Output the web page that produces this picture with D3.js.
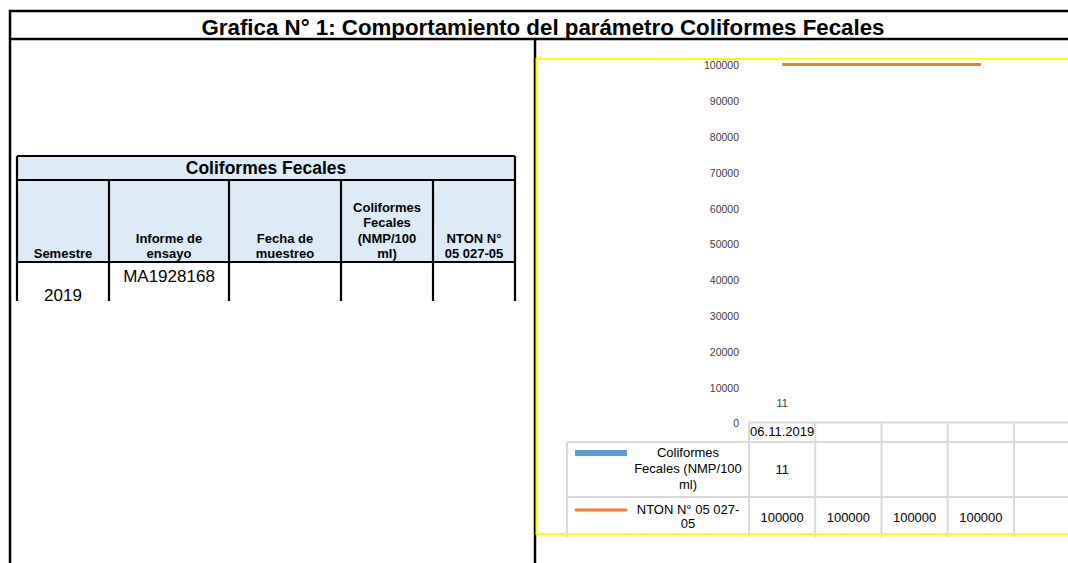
<!DOCTYPE html>
<html>
<head>
<meta charset="utf-8">
<script src="https://cdn.jsdelivr.net/npm/d3@7"></script>
<style>
  body { margin: 0; background: #fff; }
  text { font-family: Arial, "Liberation Sans", sans-serif; }
</style>
</head>
<body>
<div id="o1"></div>
<script>
// Chart data
var categories = ["06.11.2019", "", "", "", "", ""];
var cfValues = [11, null, null, null, null, null];
var ntonValues = [100000, 100000, 100000, 100000, null, null];
var seriesNames = [["Coliformes", "Fecales (NMP/100", "ml)"], ["NTON N° 05 027-", "05"]];

// Left table data
var tableTitle = "Coliformes Fecales";
var tableHeaders = [["Semestre"], ["Informe de", "ensayo"], ["Fecha de", "muestreo"], ["Coliformes", "Fecales", "(NMP/100", "ml)"], ["NTON N°", "05 027-05"]];
var tableRow = ["2019", "MA1928168", "", "", ""];

var width = 1068, height = 563;

var svg = d3.select("#o1").append("svg")
  .attr("width", width)
  .attr("height", height);

// Outer frame and title row
svg.append("path")
  .attr("d", "M10,563 V11 H1068 M10,39 H1068 M535,39 V563")
  .attr("fill", "none")
  .attr("stroke", "#000")
  .attr("stroke-width", 2.5);

svg.append("text")
  .attr("x", 543)
  .attr("y", 34.5)
  .attr("text-anchor", "middle")
  .style("font-size", "22.3px")
  .style("font-weight", "bold")
  .text("Grafica N° 1: Comportamiento del parámetro Coliformes Fecales");

// ---------- Left table ----------
var colX = [17, 109, 229, 341, 433, 515];
var tTop = 156, tBand = 180, tHead = 262, tEnd = 301;

svg.append("rect")
  .attr("x", colX[0]).attr("y", tTop)
  .attr("width", colX[5] - colX[0]).attr("height", tHead - tTop)
  .attr("fill", "#ddebf7");

var tl = svg.append("g")
  .attr("stroke", "#000")
  .attr("stroke-width", 2.2);
tl.append("path")
  .attr("d", "M" + colX[0] + "," + tTop + " H" + colX[5] +
    " M" + colX[0] + "," + tBand + " H" + colX[5] +
    " M" + colX[0] + "," + tHead + " H" + colX[5]);
tl.selectAll(".vl")
  .data(colX)
  .enter().append("line")
  .attr("x1", function(d) { return d; })
  .attr("x2", function(d) { return d; })
  .attr("y1", function(d, i) { return (i === 0 || i === 5) ? tTop : tBand; })
  .attr("y2", tEnd);

svg.append("text")
  .attr("x", (colX[0] + colX[5]) / 2)
  .attr("y", 174)
  .attr("text-anchor", "middle")
  .style("font-size", "17.5px")
  .style("font-weight", "bold")
  .text(tableTitle);

// Header cells, bottom-aligned
tableHeaders.forEach(function(lines, i) {
  var cx = (colX[i] + colX[i + 1]) / 2;
  lines.forEach(function(line, j) {
    svg.append("text")
      .attr("x", cx)
      .attr("y", tHead - 4 - (lines.length - 1 - j) * 15.5)
      .attr("text-anchor", "middle")
      .style("font-size", "13px")
      .style("font-weight", "bold")
      .text(line);
  });
});

// Data row
svg.append("text")
  .attr("x", (colX[0] + colX[1]) / 2)
  .attr("y", 301)
  .attr("text-anchor", "middle")
  .style("font-size", "17px")
  .text(tableRow[0]);
svg.append("text")
  .attr("x", (colX[1] + colX[2]) / 2)
  .attr("y", 282)
  .attr("text-anchor", "middle")
  .style("font-size", "17px")
  .text(tableRow[1]);

// ---------- Chart ----------
var x = d3.scaleBand()
  .domain(categories.map(function(d, i) { return i; }))
  .range([749, 749 + 66.25 * categories.length])
  .paddingInner(0).paddingOuter(0);

var y = d3.scaleLinear()
  .domain([0, 100000])
  .range([422.5, 64.5]);

// y axis labels only
var yAxis = svg.append("g")
  .attr("transform", "translate(739,1)")
  .call(d3.axisLeft(y).ticks(10).tickSize(0).tickPadding(0).tickFormat(d3.format("d")));
yAxis.select(".domain").remove();
yAxis.selectAll("text")
  .attr("fill", "#404040")
  .style("font-size", "10.5px")
  .style("font-family", "Arial, 'Liberation Sans', sans-serif");

// Bars (Coliformes)
var barW = x.bandwidth() * 0.55;
svg.selectAll(".bar")
  .data(cfValues.map(function(v, i) { return { i: i, v: v }; }).filter(function(d) { return d.v != null; }))
  .enter().append("rect")
  .attr("class", "bar")
  .attr("x", function(d) { return x(d.i) + (x.bandwidth() - barW) / 2; })
  .attr("y", function(d) { return y(d.v); })
  .attr("width", barW)
  .attr("height", function(d) { return y(0) - y(d.v); })
  .attr("fill", "#5b9bd5");

svg.selectAll(".barlabel")
  .data(cfValues.map(function(v, i) { return { i: i, v: v }; }).filter(function(d) { return d.v != null; }))
  .enter().append("text")
  .attr("x", function(d) { return x(d.i) + x.bandwidth() / 2; })
  .attr("y", function(d) { return y(d.v) - 15.5; })
  .attr("text-anchor", "middle")
  .attr("fill", "#404040")
  .style("font-size", "11px")
  .text(function(d) { return d.v; });

// NTON line
var line = d3.line()
  .defined(function(d) { return d != null; })
  .x(function(d, i) { return x(i) + x.bandwidth() / 2; })
  .y(function(d) { return y(d); });
svg.append("path")
  .datum(ntonValues)
  .attr("d", line)
  .attr("fill", "none")
  .attr("stroke", "#ed7d31")
  .attr("stroke-width", 3);

// Data table under the chart
var rowTop = [422.5, 442, 497, 537];
var legendLeft = 567;
var gridEnd = 1070;
var grid = svg.append("g")
  .attr("stroke", "#d9d9d9")
  .attr("stroke-width", 2)
  .attr("fill", "none");
grid.append("path")
  .attr("d", "M" + x(0) + "," + rowTop[0] + " H" + gridEnd +
    " M" + legendLeft + "," + rowTop[1] + " H" + gridEnd +
    " M" + legendLeft + "," + rowTop[2] + " H" + gridEnd +
    " M" + legendLeft + "," + rowTop[1] + " V" + rowTop[3]);
grid.selectAll(".gv")
  .data(categories.map(function(d, i) { return i; }))
  .enter().append("line")
  .attr("x1", function(d) { return x(d); })
  .attr("x2", function(d) { return x(d); })
  .attr("y1", rowTop[0])
  .attr("y2", rowTop[3]);

// Category labels
svg.selectAll(".catlabel")
  .data(categories)
  .enter().append("text")
  .attr("x", function(d, i) { return x(i) + x.bandwidth() / 2; })
  .attr("y", 435.5)
  .attr("text-anchor", "middle")
  .attr("fill", "#000")
  .style("font-size", "13px")
  .text(function(d) { return d; });

// Legend keys
svg.append("rect")
  .attr("x", 575).attr("y", 450)
  .attr("width", 52).attr("height", 6)
  .attr("fill", "#5b9bd5");
svg.append("line")
  .attr("x1", 576).attr("x2", 626)
  .attr("y1", 510).attr("y2", 510)
  .attr("stroke", "#ed7d31")
  .attr("stroke-width", 3)
  .attr("stroke-linecap", "round");

var legendY = [[457, 473, 489], [514, 528]];
seriesNames.forEach(function(lines, s) {
  lines.forEach(function(t, j) {
    svg.append("text")
      .attr("x", 688)
      .attr("y", legendY[s][j])
      .attr("text-anchor", "middle")
      .attr("fill", "#000")
      .style("font-size", "13px")
      .text(t);
  });
});

// Table values
[cfValues, ntonValues].forEach(function(vals, s) {
  svg.selectAll(".val" + s)
    .data(vals)
    .enter().append("text")
    .attr("x", function(d, i) { return x(i) + x.bandwidth() / 2; })
    .attr("y", s === 0 ? 474 : 522)
    .attr("text-anchor", "middle")
    .attr("fill", "#000")
    .style("font-size", "13px")
    .text(function(d) { return d == null ? "" : d; });
});

// Yellow chart border
svg.append("rect")
  .attr("x", 536.5).attr("y", 59)
  .attr("width", 560).attr("height", 475)
  .attr("fill", "none")
  .attr("stroke", "#ffff00")
  .attr("stroke-width", 2);
</script>
</body>
</html>
